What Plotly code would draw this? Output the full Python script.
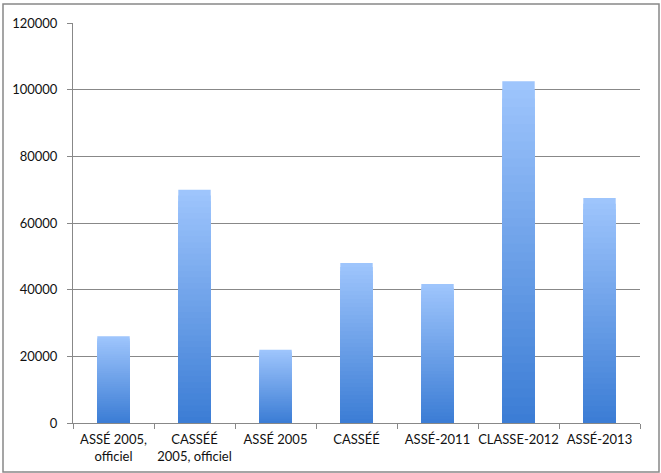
import plotly.graph_objects as go
import numpy as np

categories = ["ASSÉ 2005,<br>officiel", "CASSÉÉ<br>2005, officiel", "ASSÉ 2005",
              "CASSÉÉ", "ASSÉ-2011", "CLASSE-2012", "ASSÉ-2013"]
values = [26000, 70000, 22000, 48000, 41700, 102500, 67500]
y_ticks = [0, 20000, 40000, 60000, 80000, 100000, 120000]

top_rgb = np.array([158, 197, 252])
bot_rgb = np.array([58, 124, 212])
N = 40

fig = go.Figure()
vals = np.array(values, dtype=float)
for k in range(N):
    frac = k / N
    c = top_rgb + (bot_rgb - top_rgb) * frac
    fig.add_trace(go.Bar(
        x=categories, y=vals * (1 - frac),
        marker=dict(color=f"rgb({int(c[0])},{int(c[1])},{int(c[2])})", line=dict(width=0)),
        width=0.4, hoverinfo="skip", showlegend=False,
    ))

fig.update_layout(
    width=661, height=473,
    margin=dict(l=73, r=21, t=23, b=50),
    paper_bgcolor="white", plot_bgcolor="white",
    barmode="overlay",
    font=dict(family="Lato, 'Open Sans', sans-serif", size=13, color="#111"),
    showlegend=False,
)
fig.update_xaxes(
    type="category", showline=True, linecolor="#888", linewidth=1,
    ticks="outside", tickson="boundaries", ticklen=5, tickcolor="#888",
    showgrid=False, tickfont=dict(size=13), tickangle=0, automargin=False,
    ticklabelstandoff=4,
)
fig.update_yaxes(
    range=[0, 120000], tickvals=y_ticks, ticktext=[str(v) for v in y_ticks],
    showline=True, linecolor="#888", linewidth=1,
    ticks="outside", ticklen=5, tickcolor="#888",
    showgrid=True, gridcolor="#888", gridwidth=1, zeroline=False,
    tickfont=dict(size=13), ticklabelstandoff=7, automargin=False,
)
fig.add_shape(type="rect", xref="paper", yref="paper",
              x0=(3 - 73) / 567, x1=(659 - 73) / 567,
              y0=(423 - 472) / 400, y1=(423 - 4) / 400,
              line=dict(color="#888", width=1.5), fillcolor="rgba(0,0,0,0)", layer="below")
fig.write_html("out.html")
